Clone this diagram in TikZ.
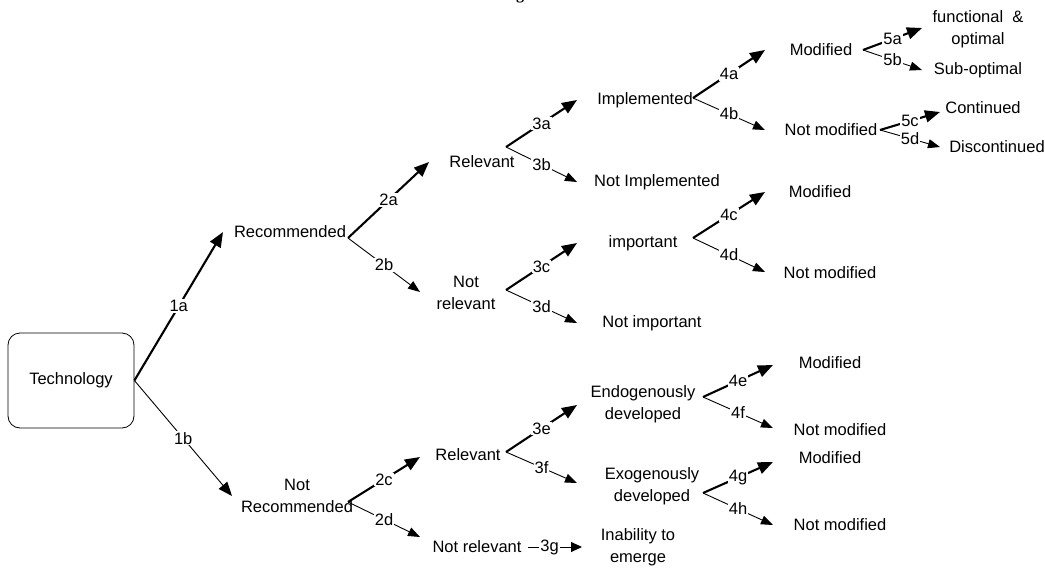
\documentclass[tikz,border=0pt]{standalone}
\usepackage{fontspec}
\setmainfont{Liberation Sans}
\newfontfamily\ttlfont{Liberation Serif}
\usetikzlibrary{arrows.meta}
\tikzset{
  txt/.style={align=center, inner sep=0pt, font=\fontsize{16.5}{21.5}\selectfont},
  lbl/.style={fill=white, inner sep=1pt, font=\fontsize{16.5}{19}\selectfont},
  thk/.style={line width=2.1pt, -{Triangle[length=15pt,width=12pt]}},
  thn/.style={line width=0.9pt, -{Triangle[length=12pt,width=9pt]}},
}
\begin{document}
\begin{tikzpicture}[x=1pt,y=-1pt]
\useasboundingbox (0,0) rectangle (1045,568);

\node[anchor=base, inner sep=0pt, font=\ttlfont\bfseries\fontsize{16}{19}\selectfont] (ttl) at (520,-0.5) {g};

\node[draw, line width=0.8pt, rounded corners=12pt, minimum width=126pt, minimum height=95pt, txt] (tech) at (71,380.5) {Technology};

\node[txt] (rec) at (290,232) {Recommended};
\node[txt] (notrec) at (297,496) {Not\\Recommended};

\node[txt] (rel1) at (482,162) {Relevant};
\node[txt] (notrel1) at (466,293) {Not\\relevant};
\node[txt] (rel2) at (468,455) {Relevant};
\node[txt] (notrel2) at (477,547) {Not relevant};

\node[txt] (impl) at (645,100) {Implemented};
\node[txt] (notimpl) at (657,182) {Not Implemented};
\node[txt] (imp) at (643,243) {important};
\node[txt] (notimp) at (652,323) {Not important};
\node[txt] (endo) at (643,404) {Endogenously\\developed};
\node[txt] (exo) at (652,486) {Exogenously\\developed};
\node[txt] (inab) at (638,547) {Inability to\\emerge};

\node[txt] (mod1) at (821,50) {Modified};
\node[txt] (notmod1) at (831,130) {Not modified};
\node[txt] (mod2) at (820,192) {Modified};
\node[txt] (notmod2) at (830,273) {Not modified};
\node[txt] (mod3) at (830,363) {Modified};
\node[txt] (notmod3) at (840,430) {Not modified};
\node[txt] (mod4) at (830,458) {Modified};
\node[txt] (notmod4) at (840,525) {Not modified};

\node[txt] (func) at (978,29) {functional \ \&\\optimal};
\node[txt] (subopt) at (978,70) {Sub-optimal};
\node[txt] (cont) at (983,108) {Continued};
\node[txt] (discont) at (997,147) {Discontinued};

\coordinate (fRec) at (348,238);
\coordinate (fNotRec) at (348,502);
\coordinate (fRel1) at (506,147);
\coordinate (fNotRel1) at (506,290);
\coordinate (fRel2) at (506,452);
\coordinate (fNotRel2) at (528,547);
\coordinate (fImpl) at (693,98);
\coordinate (fImp) at (693,238);
\coordinate (fEndo) at (703,397);
\coordinate (fExo) at (703,493);
\coordinate (fMod1) at (863,50);
\coordinate (fNotMod1) at (880,130);

\coordinate (t1a) at (223,232);
\coordinate (t1b) at (232,496);
\coordinate (t2a) at (429,162);
\coordinate (t2b) at (420,292);
\coordinate (t2c) at (420,457);
\coordinate (t2d) at (420,537);
\coordinate (t3a) at (577,100);
\coordinate (t3b) at (577,182);
\coordinate (t3c) at (577,243);
\coordinate (t3d) at (577,323);
\coordinate (t3e) at (577,405);
\coordinate (t3f) at (577,483);
\coordinate (t3g) at (582,547);
\coordinate (t4a) at (765,50);
\coordinate (t4b) at (765,130);
\coordinate (t4c) at (765,192);
\coordinate (t4d) at (765,272);
\coordinate (t4e) at (773,365);
\coordinate (t4f) at (773,428);
\coordinate (t4g) at (773,462);
\coordinate (t4h) at (773,525);
\coordinate (t5a) at (922,28);
\coordinate (t5b) at (922,70);
\coordinate (t5c) at (940,112);
\coordinate (t5d) at (940,147);

\draw[thk] (tech.east) --(t1a) node[midway,lbl] {1a};
\draw[thn, -{Triangle[length=14pt,width=11pt]}] (tech.east) --(t1b) node[midway,lbl] {1b};

\draw[thk] (fRec) --(t2a) node[midway,lbl] {2a};
\draw[thn] (fRec) --(t2b) node[midway,lbl] {2b};
\draw[thk] (fNotRec) --(t2c) node[midway,lbl] {2c};
\draw[thn] (fNotRec) --(t2d) node[midway,lbl] {2d};

\draw[thk] (fRel1) --(t3a) node[midway,lbl] {3a};
\draw[thn] (fRel1) --(t3b) node[midway,lbl] {3b};
\draw[thk] (fNotRel1) --(t3c) node[midway,lbl] {3c};
\draw[thn] (fNotRel1) --(t3d) node[midway,lbl] {3d};
\draw[thk] (fRel2) --(t3e) node[midway,lbl] {3e};
\draw[thn] (fRel2) --(t3f) node[midway,lbl] {3f};
\draw[thn, -{Triangle[length=11pt,width=10pt]}] (fNotRel2) --(t3g) node[pos=0.4,lbl] {3g};

\draw[thk] (fImpl) --(t4a) node[midway,lbl] {4a};
\draw[thn] (fImpl) --(t4b) node[midway,lbl] {4b};
\draw[thk] (fImp) --(t4c) node[midway,lbl] {4c};
\draw[thn] (fImp) --(t4d) node[midway,lbl] {4d};
\draw[thk] (fEndo) --(t4e) node[midway,lbl] {4e};
\draw[thn] (fEndo) --(t4f) node[midway,lbl] {4f};
\draw[thk] (fExo) --(t4g) node[midway,lbl] {4g};
\draw[thn] (fExo) --(t4h) node[midway,lbl] {4h};

\draw[thk] (fMod1) --(t5a) node[midway,lbl] {5a};
\draw[thn] (fMod1) --(t5b) node[midway,lbl] {5b};
\draw[thk] (fNotMod1) --(t5c) node[midway,lbl] {5c};
\draw[thn] (fNotMod1) --(t5d) node[midway,lbl] {5d};
\end{tikzpicture}
\end{document}
